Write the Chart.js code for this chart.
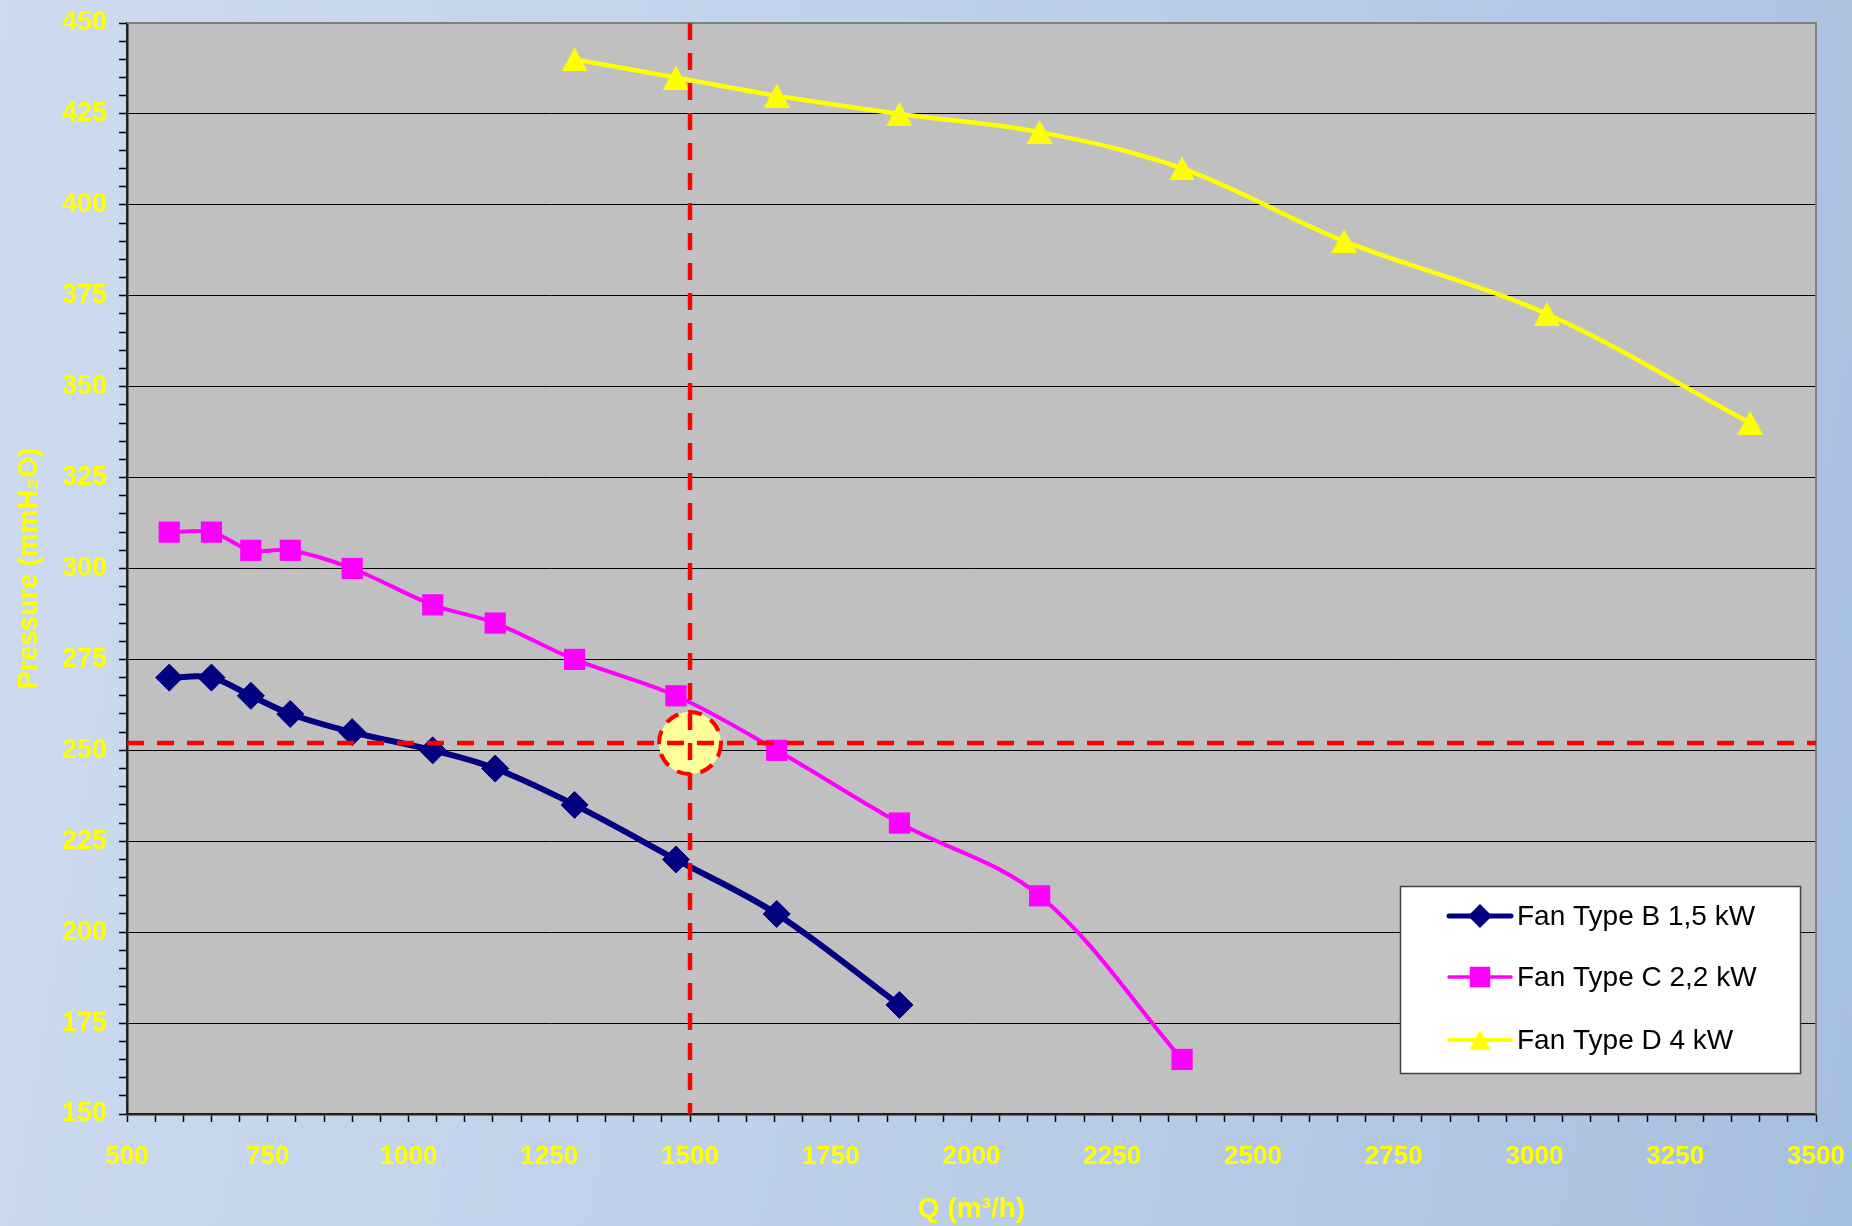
<!DOCTYPE html>
<html>
<head>
<meta charset="utf-8">
<title>Fan curves</title>
<script src="https://cdn.jsdelivr.net/npm/chart.js@4.4.1/dist/chart.umd.min.js"></script>
<style>
  html, body { margin: 0; padding: 0; }
  body {
    width: 1852px; height: 1226px; overflow: hidden;
    background: linear-gradient(100deg, #cddbef 0%, #c0d2ea 40%, #b6cae6 70%, #a7bfe0 100%);
  }
  canvas { display: block; }
</style>
</head>
<body>
<canvas id="fanChart" width="1852" height="1226"></canvas>
<script>
// Axis tick labels
const qTicks = [500, 750, 1000, 1250, 1500, 1750, 2000, 2250, 2500, 2750, 3000, 3250, 3500];
const pTicks = [150, 175, 200, 225, 250, 275, 300, 325, 350, 375, 400, 425, 450];

// Series names
const seriesNames = ['Fan Type B 1,5 kW', 'Fan Type C 2,2 kW', 'Fan Type D 4 kW'];

// Fan Type B 1,5 kW : flow (m3/h) and pressure (mmH2O)
const flowB = [575, 650, 720, 790, 900, 1043, 1154, 1295, 1475, 1654, 1872];
const pressB = [270, 270, 265, 260, 255, 250, 245, 235, 220, 205, 180];

// Fan Type C 2,2 kW
const flowC = [575, 650, 720, 790, 900, 1043, 1154, 1295, 1475, 1654, 1872, 2121, 2374];
const pressC = [310, 310, 305, 305, 300, 290, 285, 275, 265, 250, 230, 210, 165];

// Fan Type D 4 kW
const flowD = [1295, 1475, 1654, 1872, 2121, 2374, 2662, 3022, 3383];
const pressD = [440, 435, 430, 425, 420, 410, 390, 370, 340];

// Duty point
const dutyFlow = 1500;
const dutyPressure = 252;

const toPoints = (xs, ys) => xs.map((x, i) => ({ x: x, y: ys[i] }));
const isMajor = (v, list) => Math.abs(v - Math.round(v)) < 1e-6 && list.includes(Math.round(v));

// Triangle marker centred on its bounding box
function triangleMarker(w, h, color) {
  const c = document.createElement('canvas');
  c.width = Math.ceil(w); c.height = Math.ceil(h);
  const g = c.getContext('2d');
  g.fillStyle = color;
  g.beginPath();
  g.moveTo(c.width / 2, 0);
  g.lineTo(c.width, c.height);
  g.lineTo(0, c.height);
  g.closePath();
  g.fill();
  return c;
}
const triBig = triangleMarker(26, 24, '#ffff00');
const triSmall = triangleMarker(21, 20, '#ffff00');

const FONT = '"Liberation Sans", Arial, sans-serif';
Chart.defaults.font.family = FONT;

// Grey plot area
const plotBackground = {
  id: 'plotBackground',
  beforeDraw(chart) {
    const { ctx, chartArea: a } = chart;
    ctx.save();
    ctx.fillStyle = '#c0c0c0';
    ctx.fillRect(a.left, a.top, a.right - a.left, a.bottom - a.top);
    ctx.restore();
  },
  beforeDatasetsDraw(chart) {
    const { ctx, chartArea: a } = chart;
    ctx.save();
    ctx.strokeStyle = '#7f7f7f';
    ctx.lineWidth = 2;
    ctx.beginPath();
    ctx.moveTo(a.left, a.top);
    ctx.lineTo(a.right, a.top);
    ctx.lineTo(a.right, a.bottom);
    ctx.stroke();
    ctx.restore();
  }
};

// Duty point marker with dashed cross lines
const dutyPoint = {
  id: 'dutyPoint',
  afterDatasetsDraw(chart) {
    const { ctx, chartArea: a, scales } = chart;
    const px = scales.x.getPixelForValue(dutyFlow);
    const py = scales.y.getPixelForValue(dutyPressure);
    ctx.save();
    ctx.beginPath();
    ctx.arc(px, py, 31, 0, Math.PI * 2);
    ctx.fillStyle = '#ffff99';
    ctx.fill();
    ctx.setLineDash([14, 10]);
    ctx.lineWidth = 4;
    ctx.strokeStyle = '#ff0000';
    ctx.stroke();
    ctx.setLineDash([17, 13]);
    ctx.lineWidth = 4.5;
    ctx.beginPath();
    ctx.moveTo(px, a.top);
    ctx.lineTo(px, a.bottom);
    ctx.stroke();
    ctx.beginPath();
    ctx.moveTo(a.left, py);
    ctx.lineTo(a.right, py);
    ctx.stroke();
    ctx.restore();
  }
};

// Boxed legend inside the plot
const boxLegend = {
  id: 'boxLegend',
  afterDraw(chart) {
    const { ctx } = chart;
    const bx = 1400, by = 886, bw = 400, bh = 187;
    ctx.save();
    ctx.fillStyle = '#ffffff';
    ctx.fillRect(bx, by, bw, bh);
    ctx.strokeStyle = '#404040';
    ctx.lineWidth = 1.5;
    ctx.strokeRect(bx + 0.5, by + 0.5, bw, bh);
    const rowY = [916, 977, 1040];
    const lineW = [5, 3.5, 4];
    chart.data.datasets.forEach((ds, i) => {
      const y = rowY[i];
      ctx.strokeStyle = ds.borderColor;
      ctx.lineWidth = lineW[i];
      ctx.lineCap = 'round';
      ctx.setLineDash([]);
      ctx.beginPath();
      ctx.moveTo(1449, y);
      ctx.lineTo(1511, y);
      ctx.stroke();
      ctx.fillStyle = ds.pointBackgroundColor;
      ctx.strokeStyle = ds.pointBorderColor;
      if (i === 2) {
        ctx.drawImage(triSmall, 1480 - triSmall.width / 2, y - triSmall.height / 2);
      } else {
        Chart.helpers.drawPoint(ctx, {
          pointStyle: ds.pointStyle,
          radius: i === 0 ? 8.5 : 12,
          rotation: 0,
          borderWidth: 1
        }, 1480, y);
      }
      ctx.fillStyle = '#000000';
      ctx.font = '28px ' + FONT;
      ctx.textAlign = 'left';
      ctx.textBaseline = 'middle';
      ctx.fillText(ds.label, 1517, y + 1);
    });
    ctx.restore();
  }
};

new Chart(document.getElementById('fanChart'), {
  type: 'scatter',
  data: {
    datasets: [
      {
        label: seriesNames[0],
        data: toPoints(flowB, pressB),
        showLine: true,
        borderColor: '#000080',
        borderWidth: 6,
        tension: 0.35,
        pointStyle: 'rectRot',
        pointRadius: 13.5,
        pointBackgroundColor: '#000080',
        pointBorderColor: '#000080',
        pointBorderWidth: 1
      },
      {
        label: seriesNames[1],
        data: toPoints(flowC, pressC),
        showLine: true,
        borderColor: '#ff00ff',
        borderWidth: 4,
        tension: 0.35,
        pointStyle: 'rect',
        pointRadius: 15,
        pointBackgroundColor: '#ff00ff',
        pointBorderColor: '#ff00ff',
        pointBorderWidth: 0
      },
      {
        label: seriesNames[2],
        data: toPoints(flowD, pressD),
        showLine: true,
        borderColor: '#ffff00',
        borderWidth: 4.5,
        tension: 0.35,
        pointStyle: triBig,
        pointRadius: 13,
        pointBackgroundColor: '#ffff00',
        pointBorderColor: '#ffff00'
      }
    ]
  },
  options: {
    responsive: false,
    animation: false,
    devicePixelRatio: 1,
    events: [],
    layout: { padding: { left: 0, right: 36, top: 23, bottom: 0 } },
    plugins: {
      legend: { display: false },
      tooltip: { enabled: false }
    },
    scales: {
      x: {
        type: 'linear',
        min: qTicks[0],
        max: qTicks[qTicks.length - 1],
        afterFit(scale) {
          scale.height = 112;
          scale.paddingLeft = 0;
          scale.paddingRight = 0;
        },
        ticks: {
          stepSize: 50,
          autoSkip: false,
          maxRotation: 0,
          padding: 19,
          color: '#ffff00',
          font: { size: 26, weight: 'bold' },
          callback: (v) => isMajor(v, qTicks) ? String(Math.round(v)) : ''
        },
        grid: {
          drawOnChartArea: false,
          drawTicks: true,
          tickLength: 8,
          tickColor: '#000000',
          tickWidth: 1.5,
          color: '#000000'
        },
        border: { display: true, color: '#202020', width: 2.5 },
        title: {
          display: true,
          text: 'Q (m³/h)',
          color: '#ffff00',
          font: { size: 28, weight: 'bold' },
          padding: { top: 0, bottom: 0 }
        }
      },
      y: {
        type: 'linear',
        min: pTicks[0],
        max: pTicks[pTicks.length - 1],
        afterFit(scale) {
          scale.width = 127;
          scale.paddingTop = 0;
          scale.paddingBottom = 0;
        },
        ticks: {
          stepSize: 5,
          autoSkip: false,
          padding: 12,
          color: '#ffff00',
          font: { size: 27, weight: 'bold' },
          callback: (v) => isMajor(v, pTicks) ? String(Math.round(v)) : ''
        },
        grid: {
          drawOnChartArea: true,
          drawTicks: true,
          tickLength: 8,
          tickColor: '#000000',
          tickWidth: 1.5,
          lineWidth: 1,
          color: (c) => (c.tick && isMajor(c.tick.value, pTicks)) ? '#000000' : 'rgba(0,0,0,0)'
        },
        border: { display: true, color: '#202020', width: 2.5 },
        title: {
          display: true,
          text: 'Pressure (mmH₂O)',
          color: '#ffff00',
          font: { size: 27, weight: 'bold' },
          padding: { top: 13, bottom: 0 }
        }
      }
    }
  },
  plugins: [plotBackground, dutyPoint, boxLegend]
});
</script>
</body>
</html>
